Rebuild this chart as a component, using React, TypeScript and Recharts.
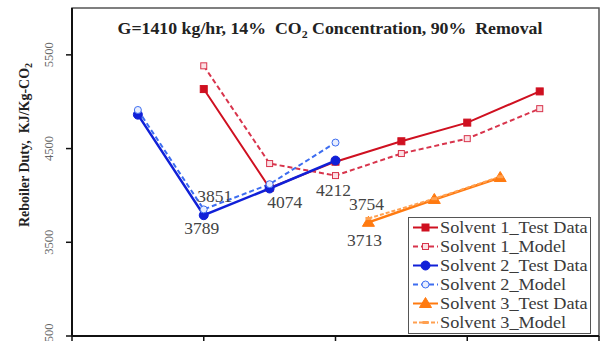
import React from "react";
import { LineChart, Line, XAxis, YAxis, ReferenceArea } from "recharts";

// x positions (unlabelled axis) and reboiler duty values, KJ/Kg-CO2
const solvent1X = [1, 1.5, 2, 2.5, 3, 3.55];
const solvent1Test = [5135, 4080, 4360, 4578, 4777, 5110];
const solvent1Model = [5383, 4340, 4212, 4447, 4606, 4926];

const solvent2X = [0.5, 1, 1.5, 2];
const solvent2Test = [4862, 3789, 4074, 4372];
const solvent2Model = [4912, 3851, 4120, 4564];

const solvent3X = [2.25, 2.75, 3.25];
const solvent3Test = [3713, 3957, 4191];
const solvent3Model = [3754, 3965, 4200];

const yTicks = [2500, 3500, 4500, 5500];
const xTicks = [0, 1, 2, 3, 4];

const toRows = (xs: number[], ys: number[]) => xs.map((x, i) => ({ x, y: ys[i] }));

const SERIF = "Times New Roman, Liberation Serif, Times, serif";

type Marker = "square" | "squareOpen" | "circle" | "circleOpen" | "triangle" | "dash";

interface SeriesDef {
  name: string;
  data: { x: number; y: number }[];
  color: string;
  dash?: string;
  width: number;
  marker: Marker;
  labels: { index: number; dx: number; dy: number }[];
}

const series: SeriesDef[] = [
  { name: "Solvent 1_Test Data", data: toRows(solvent1X, solvent1Test), color: "#cf1020", width: 2, marker: "square", labels: [] },
  { name: "Solvent 1_Model", data: toRows(solvent1X, solvent1Model), color: "#d8344c", dash: "5 3", width: 2, marker: "squareOpen", labels: [{ index: 2, dx: -2, dy: 14 }] },
  { name: "Solvent 2_Test Data", data: toRows(solvent2X, solvent2Test), color: "#1020d8", width: 2.5, marker: "circle", labels: [{ index: 1, dx: -2, dy: 13 }, { index: 2, dx: 15, dy: 14 }] },
  { name: "Solvent 2_Model", data: toRows(solvent2X, solvent2Model), color: "#3d6df0", dash: "5 3", width: 2, marker: "circleOpen", labels: [{ index: 1, dx: 11, dy: -13 }] },
  { name: "Solvent 3_Test Data", data: toRows(solvent3X, solvent3Test), color: "#ff7a10", width: 2.5, marker: "triangle", labels: [{ index: 0, dx: -4, dy: 18 }] },
  { name: "Solvent 3_Model", data: toRows(solvent3X, solvent3Model), color: "#ffa050", dash: "4 2", width: 2, marker: "dash", labels: [{ index: 0, dx: -2, dy: -14 }] },
];

function MarkerShape({ cx, cy, kind, color }: { cx: number; cy: number; kind: Marker; color: string }) {
  switch (kind) {
    case "square":
      return <rect x={cx - 3.5} y={cy - 3.5} width={7} height={7} fill={color} stroke={color} />;
    case "squareOpen":
      return <rect x={cx - 3} y={cy - 3} width={6} height={6} fill="#fbe0e4" stroke={color} strokeWidth={1} />;
    case "circle":
      return <circle cx={cx} cy={cy} r={4.5} fill={color} stroke={color} />;
    case "circleOpen":
      return <circle cx={cx} cy={cy} r={3.5} fill="#e8eeff" stroke={color} strokeWidth={1} />;
    case "triangle":
      return <polygon points={`${cx},${cy - 6} ${cx - 6},${cy + 4} ${cx + 6},${cy + 4}`} fill={color} stroke={color} />;
    default:
      return <rect x={cx - 3} y={cy - 1.5} width={6} height={3} fill={color} />;
  }
}

const YTick = (props: any) => {
  const { y, payload } = props;
  const tx = 49;
  return (
    <text x={tx} y={y} transform={`rotate(-90, ${tx}, ${y})`} textAnchor="middle" dominantBaseline="central"
      fontFamily={SERIF} fontSize={12.5} fill="#666">
      {payload.value}
    </text>
  );
};

const EmptyTick = () => <g />;

const LegendBox = () => (
  <div style={{ position: "absolute", left: 408, top: 217, border: "1.5px solid #555", background: "#fff", width: 183, height: 117, padding: "0", boxSizing: "border-box" }}>
    {series.map((s) => (
      <div key={s.name} style={{ display: "flex", alignItems: "center", height: 19 }}>
        <svg width={31} height={19} style={{ flex: "none" }}>
          <line x1={4} y1={9.5} x2={29} y2={9.5} stroke={s.color} strokeWidth={2} strokeDasharray={s.dash} />
          <MarkerShape cx={16.5} cy={9.5} kind={s.marker} color={s.color} />
        </svg>
        <span style={{ fontFamily: SERIF, fontSize: 16, color: "#3a3a3a", whiteSpace: "nowrap", display: "inline-block", transform: "scaleX(1.14)", transformOrigin: "left center" }}>{s.name}</span>
      </div>
    ))}
  </div>
);

export default function App() {
  return (
    <div style={{ position: "absolute", left: 0, top: 0, width: 605, height: 341, background: "#fff", overflow: "hidden" }}>
      <LineChart width={605} height={341} margin={{ top: 8, right: 6, bottom: 0, left: 0 }}>
        <ReferenceArea x1={0} x2={4} y1={2500} y2={6000} fill="none" stroke="#555" strokeWidth={1.5} ifOverflow="visible" />
        <XAxis type="number" dataKey="x" domain={[0, 4]} ticks={xTicks} height={5} allowDataOverflow interval={0}
          axisLine={{ stroke: "#111", strokeWidth: 2 }} tickLine={{ stroke: "#111", strokeWidth: 1.5 }} tickSize={6} tick={EmptyTick} />
        <YAxis type="number" dataKey="y" domain={[2500, 6000]} ticks={yTicks} width={72} allowDataOverflow interval={0}
          axisLine={{ stroke: "#111", strokeWidth: 2 }} tickLine={{ stroke: "#111", strokeWidth: 1.5 }} tickSize={6} tick={YTick} />
        {series.map((s) => (
          <Line
            key={s.name}
            data={s.data}
            dataKey="y"
            name={s.name}
            stroke={s.color}
            strokeWidth={s.width}
            strokeDasharray={s.dash}
            isAnimationActive={false}
            dot={(p: any) => <MarkerShape key={`${s.name}-${p.index}`} cx={p.cx} cy={p.cy} kind={s.marker} color={s.color} />}
            activeDot={false}
            label={(p: any) => {
              const a = s.labels.find((l) => l.index === p.index);
              if (!a) return <g key={`${s.name}-l-${p.index}`} />;
              return (
                <text key={`${s.name}-l-${p.index}`} x={p.x + a.dx} y={p.y + a.dy} textAnchor="middle" dominantBaseline="central"
                  fontFamily={SERIF} fontSize={17.5} fill="#444">
                  {p.value}
                </text>
              );
            }}
          />
        ))}
        <text x={0} y={0} transform="translate(330, 34) scale(1.08, 1)" textAnchor="middle" fontFamily={SERIF} fontSize={16.5} fontWeight="bold" fill="#222">
          G=1410 kg/hr, 14%{"\u00a0 "}CO<tspan fontSize={11} dy={4}>2</tspan><tspan dy={-4}> Concentration, 90%{"\u00a0 "}Removal</tspan>
        </text>
        <text x={24} y={145} transform="rotate(-90, 24, 145)" textAnchor="middle" dominantBaseline="central"
          fontFamily={SERIF} fontSize={14} fontWeight="bold" fill="#222">
          Reboiler Duty,{"\u00a0 "}KJ/Kg-CO<tspan fontSize={10} dy={4}>2</tspan>
        </text>
      </LineChart>
      <LegendBox />
    </div>
  );
}
